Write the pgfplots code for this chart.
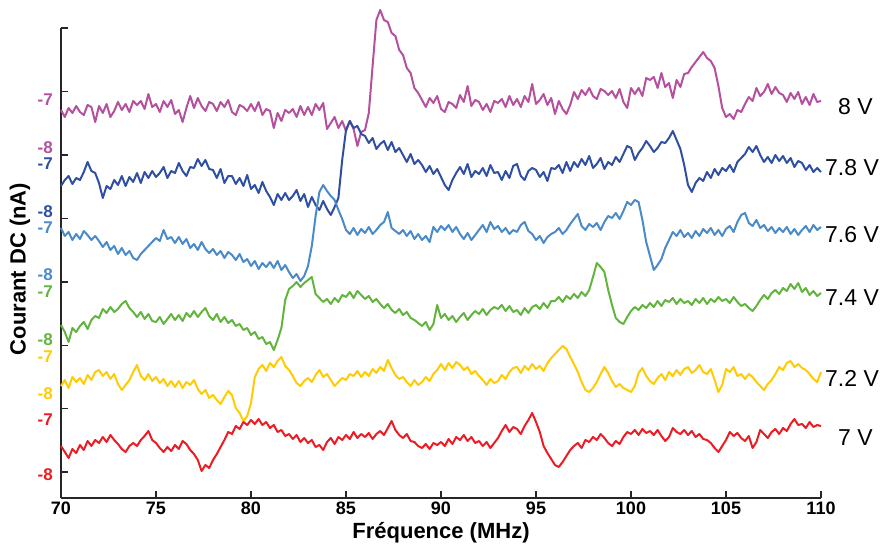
\documentclass[border=0pt]{standalone}
\usepackage{pgfplots}
\pgfplotsset{compat=1.18}
\usepackage{fontspec}
\setmainfont{Liberation Sans}
\definecolor{cM}{HTML}{B5509F}
\definecolor{cB}{HTML}{2F4FA2}
\definecolor{cL}{HTML}{4A8AC9}
\definecolor{cG}{HTML}{63B43F}
\definecolor{cY}{HTML}{FFCB05}
\definecolor{cR}{HTML}{EC1C24}
\begin{document}
\begin{tikzpicture}
\begin{axis}[
  scale only axis, width=760bp, height=470bp,
  xmin=70, xmax=110, ymin=0, ymax=470,
  axis x line*=bottom, axis y line*=left,
  axis line style={line width=1.4bp, black!85, -},
  xtick={70,75,...,110},
  ytick={26,89.4,152.8,216.2,279.6,343,406.4,470},
  yticklabels={},
  tick align=inside, major tick length=7bp,
  tick style={line width=1.4bp, black!85},
  /pgf/number format/assume math mode=true,
  xticklabel style={font=\fontsize{18bp}{18bp}\selectfont\bfseries, anchor=base, yshift=-16bp},
  clip=false,
  every axis plot/.append style={line width=2bp, line join=round},
]
\addplot[cM] coordinates {
(70,388) (70.2,381) (70.4,390) (70.6,385) (70.8,392)
(71,386) (71.2,383) (71.4,393) (71.6,391) (71.8,376)
(72,392) (72.2,385) (72.4,394) (72.6,381) (72.8,387)
(73,396) (73.2,388) (73.4,394) (73.6,386) (73.8,397)
(74,393) (74.2,397) (74.4,389) (74.6,404) (74.8,391)
(75,394) (75.2,386) (75.4,397) (75.6,391) (75.8,398)
(76,384) (76.2,388) (76.4,376) (76.6,390) (76.8,402)
(77,390) (77.2,400) (77.4,392) (77.6,387) (77.8,396)
(78,394) (78.2,387) (78.4,396) (78.6,391) (78.8,398)
(79,386) (79.2,383) (79.4,393) (79.6,391) (79.8,387)
(80,394) (80.2,387) (80.4,396) (80.6,383) (80.8,389)
(81,387) (81.2,370) (81.4,385) (81.6,377) (81.8,388)
(82,385) (82.2,389) (82.4,381) (82.6,392) (82.8,383)
(83,391) (83.2,383) (83.4,394) (83.6,388) (83.8,395)
(84,369) (84.2,375) (84.4,381) (84.6,370) (84.8,377)
(85,367) (85.2,377) (85.4,369) (85.6,352) (85.8,366)
(86,368) (86.2,385) (86.4,432) (86.6,478) (86.8,488)
(87,478) (87.2,476) (87.4,465) (87.6,462) (87.8,448)
(88,443) (88.2,430) (88.4,425) (88.6,410) (88.8,405)
(89,398) (89.2,391) (89.4,400) (89.6,395) (89.8,402)
(90,389) (90.2,386) (90.4,396) (90.6,394) (90.8,390)
(91,403) (91.2,396) (91.4,412) (91.6,392) (91.8,398)
(92,396) (92.2,388) (92.4,394) (92.6,386) (92.8,397)
(93,395) (93.2,399) (93.4,391) (93.6,402) (93.8,393)
(94,399) (94.2,391) (94.4,402) (94.6,396) (94.8,414)
(95,394) (95.2,398) (95.4,404) (95.6,393) (95.8,400)
(96,384) (96.2,397) (96.4,389) (96.6,384) (96.8,393)
(97,406) (97.2,399) (97.4,408) (97.6,403) (97.8,410)
(98,402) (98.2,399) (98.4,409) (98.6,407) (98.8,403)
(99,407) (99.2,400) (99.4,409) (99.6,396) (99.8,390)
(100,410) (100.2,404) (100.4,410) (100.6,402) (100.8,420)
(101,418) (101.2,421) (101.4,410) (101.6,425) (101.8,411)
(102,415) (102.2,400) (102.4,418) (102.6,411) (102.8,424)
(103,425) (103.2,431) (103.4,436) (103.6,441) (103.8,446)
(104,440) (104.2,437) (104.4,430) (104.6,412) (104.8,390)
(105,381) (105.2,384) (105.4,379) (105.6,388) (105.8,386)
(106,394) (106.2,401) (106.4,397) (106.6,410) (106.8,402)
(107,406) (107.2,414) (107.4,404) (107.6,411) (107.8,405)
(108,403) (108.2,396) (108.4,405) (108.6,399) (108.8,406)
(109,394) (109.2,401) (109.4,393) (109.6,404) (109.8,396)
(110,397)};
\addplot[cB] coordinates {
(70,312) (70.2,318) (70.4,322) (70.6,314) (70.8,320)
(71,318) (71.2,326) (71.4,336) (71.6,327) (71.8,325)
(72,315) (72.2,300) (72.4,312) (72.6,309) (72.8,318)
(73,313) (73.2,322) (73.4,312) (73.6,321) (73.8,316)
(74,325) (74.2,315) (74.4,326) (74.6,320) (74.8,327)
(75,321) (75.2,325) (75.4,331) (75.6,320) (75.8,327)
(76,325) (76.2,335) (76.4,327) (76.6,322) (76.8,331)
(77,330) (77.2,339) (77.4,332) (77.6,338) (77.8,329)
(78,328) (78.2,320) (78.4,329) (78.6,315) (78.8,322)
(79,322) (79.2,314) (79.4,320) (79.6,312) (79.8,323)
(80,309) (80.2,313) (80.4,305) (80.6,316) (80.8,307)
(81,301) (81.2,293) (81.4,304) (81.6,298) (81.8,305)
(82,298) (82.2,302) (82.4,308) (82.6,297) (82.8,304)
(83,291) (83.2,301) (83.4,293) (83.6,288) (83.8,297)
(84,289) (84.2,283) (84.4,291) (84.6,300) (84.8,338)
(85,368) (85.2,377) (85.4,370) (85.6,372) (85.8,364)
(86,362) (86.2,355) (86.4,360) (86.6,349) (86.8,354)
(87,357) (87.2,348) (87.4,356) (87.6,346) (87.8,350)
(88,343) (88.2,336) (88.4,344) (88.6,334) (88.8,338)
(89,333) (89.2,326) (89.4,332) (89.6,324) (89.8,329)
(90,321) (90.2,313) (90.4,308) (90.6,318) (90.8,325)
(91,331) (91.2,324) (91.4,334) (91.6,321) (91.8,327)
(92,324) (92.2,330) (92.4,322) (92.6,333) (92.8,325)
(93,326) (93.2,318) (93.4,327) (93.6,320) (93.8,332)
(94,334) (94.2,322) (94.4,318) (94.6,327) (94.8,330)
(95,328) (95.2,321) (95.4,326) (95.6,317) (95.8,330)
(96,329) (96.2,333) (96.4,325) (96.6,336) (96.8,327)
(97,336) (97.2,331) (97.4,339) (97.6,333) (97.8,342)
(98,330) (98.2,334) (98.4,340) (98.6,329) (98.8,336)
(99,333) (99.2,341) (99.4,336) (99.6,344) (99.8,352)
(100,350) (100.2,338) (100.4,345) (100.6,350) (100.8,357)
(101,352) (101.2,346) (101.4,350) (101.6,356) (101.8,355)
(102,360) (102.2,367) (102.4,358) (102.6,349) (102.8,333)
(103,313) (103.2,306) (103.4,315) (103.6,320) (103.8,317)
(104,326) (104.2,320) (104.4,329) (104.6,323) (104.8,330)
(105,327) (105.2,333) (105.4,326) (105.6,336) (105.8,340)
(106,344) (106.2,351) (106.4,346) (106.6,352) (106.8,343)
(107,336) (107.2,341) (107.4,335) (107.6,343) (107.8,337)
(108,342) (108.2,335) (108.4,340) (108.6,331) (108.8,337)
(109,335) (109.2,328) (109.4,333) (109.6,326) (109.8,330)
(110,326)};
\addplot[cL] coordinates {
(70,270) (70.2,262) (70.4,266) (70.6,258) (70.8,264)
(71,259) (71.2,267) (71.4,263) (71.6,258) (71.8,262)
(72,257) (72.2,251) (72.4,256) (72.6,248) (72.8,252)
(73,244) (73.2,250) (73.4,243) (73.6,247) (73.8,240)
(74,238) (74.2,244) (74.4,248) (74.6,252) (74.8,256)
(75,260) (75.2,257) (75.4,268) (75.6,259) (75.8,261)
(76,255) (76.2,261) (76.4,254) (76.6,259) (76.8,250)
(77,254) (77.2,248) (77.4,256) (77.6,249) (77.8,245)
(78,249) (78.2,243) (78.4,247) (78.6,240) (78.8,246)
(79,243) (79.2,238) (79.4,244) (79.6,236) (79.8,239)
(80,232) (80.2,237) (80.4,229) (80.6,235) (80.8,231)
(81,236) (81.2,230) (81.4,237) (81.6,228) (81.8,233)
(82,226) (82.2,220) (82.4,224) (82.6,217) (82.8,222)
(83,232) (83.2,252) (83.4,282) (83.6,306) (83.8,313)
(84,307) (84.2,302) (84.4,298) (84.6,288) (84.8,279)
(85,268) (85.2,264) (85.4,270) (85.6,263) (85.8,269)
(86,265) (86.2,271) (86.4,264) (86.6,268) (86.8,273)
(87,276) (87.2,286) (87.4,270) (87.6,267) (87.8,264)
(88,268) (88.2,262) (88.4,267) (88.6,259) (88.8,264)
(89,258) (89.2,262) (89.4,256) (89.6,271) (89.8,266)
(90,272) (90.2,268) (90.4,273) (90.6,266) (90.8,271)
(91,264) (91.2,259) (91.4,265) (91.6,258) (91.8,263)
(92,268) (92.2,273) (92.4,266) (92.6,276) (92.8,269)
(93,272) (93.2,266) (93.4,270) (93.6,264) (93.8,268)
(94,266) (94.2,273) (94.4,276) (94.6,267) (94.8,264)
(95,258) (95.2,262) (95.4,255) (95.6,261) (95.8,264)
(96,266) (96.2,270) (96.4,264) (96.6,268) (96.8,274)
(97,279) (97.2,284) (97.4,272) (97.6,268) (97.8,274)
(98,271) (98.2,275) (98.4,268) (98.6,276) (98.8,282)
(99,280) (99.2,285) (99.4,279) (99.6,287) (99.8,296)
(100,293) (100.2,298) (100.4,296) (100.6,278) (100.8,256)
(101,242) (101.2,228) (101.4,233) (101.6,239) (101.8,250)
(102,258) (102.2,266) (102.4,262) (102.6,268) (102.8,261)
(103,265) (103.2,260) (103.4,267) (103.6,262) (103.8,269)
(104,265) (104.2,270) (104.4,263) (104.6,268) (104.8,262)
(105,269) (105.2,272) (105.4,266) (105.6,276) (105.8,283)
(106,285) (106.2,275) (106.4,272) (106.6,278) (106.8,270)
(107,273) (107.2,267) (107.4,271) (107.6,265) (107.8,270)
(108,266) (108.2,271) (108.4,264) (108.6,269) (108.8,263)
(109,268) (109.2,272) (109.4,266) (109.6,273) (109.8,268)
(110,271)};
\addplot[cG] coordinates {
(70,173) (70.2,166) (70.4,156) (70.6,170) (70.8,166)
(71,172) (71.2,176) (71.4,169) (71.6,178) (71.8,182)
(72,180) (72.2,189) (72.4,185) (72.6,191) (72.8,186)
(73,189) (73.2,194) (73.4,197) (73.6,190) (73.8,186)
(74,181) (74.2,186) (74.4,179) (74.6,184) (74.8,177)
(75,176) (75.2,181) (75.4,174) (75.6,179) (75.8,184)
(76,178) (76.2,183) (76.4,177) (76.6,185) (76.8,181)
(77,187) (77.2,181) (77.4,186) (77.6,190) (77.8,182)
(78,178) (78.2,184) (78.4,176) (78.6,181) (78.8,175)
(79,178) (79.2,172) (79.4,174) (79.6,168) (79.8,170)
(80,163) (80.2,166) (80.4,159) (80.6,161) (80.8,154)
(81,156) (81.2,148) (81.4,158) (81.6,170) (81.8,198)
(82,209) (82.2,212) (82.4,216) (82.6,211) (82.8,215)
(83,218) (83.2,221) (83.4,204) (83.6,200) (83.8,196)
(84,199) (84.2,194) (84.4,200) (84.6,196) (84.8,203)
(85,201) (85.2,206) (85.4,200) (85.6,207) (85.8,203)
(86,199) (86.2,202) (86.4,196) (86.6,199) (86.8,194)
(87,190) (87.2,194) (87.4,188) (87.6,185) (87.8,189)
(88,183) (88.2,186) (88.4,180) (88.6,178) (88.8,175)
(89,172) (89.2,176) (89.4,168) (89.6,174) (89.8,193)
(90,180) (90.2,184) (90.4,178) (90.6,182) (90.8,176)
(91,181) (91.2,185) (91.4,178) (91.6,183) (91.8,187)
(92,184) (92.2,189) (92.4,183) (92.6,188) (92.8,191)
(93,189) (93.2,193) (93.4,187) (93.6,192) (93.8,186)
(94,188) (94.2,183) (94.4,190) (94.6,185) (94.8,191)
(95,193) (95.2,189) (95.4,195) (95.6,190) (95.8,197)
(96,197) (96.2,201) (96.4,196) (96.6,202) (96.8,199)
(97,204) (97.2,200) (97.4,206) (97.6,202) (97.8,208)
(98,221) (98.2,235) (98.4,231) (98.6,226) (98.8,208)
(99,193) (99.2,180) (99.4,176) (99.6,174) (99.8,181)
(100,187) (100.2,191) (100.4,188) (100.6,193) (100.8,190)
(101,195) (101.2,191) (101.4,197) (101.6,192) (101.8,198)
(102,196) (102.2,200) (102.4,194) (102.6,199) (102.8,195)
(103,197) (103.2,193) (103.4,199) (103.6,195) (103.8,200)
(104,194) (104.2,199) (104.4,196) (104.6,201) (104.8,197)
(105,199) (105.2,195) (105.4,201) (105.6,196) (105.8,192)
(106,194) (106.2,190) (106.4,187) (106.6,192) (106.8,198)
(107,203) (107.2,199) (107.4,205) (107.6,208) (107.8,204)
(108,210) (108.2,207) (108.4,214) (108.6,209) (108.8,215)
(109,206) (109.2,210) (109.4,203) (109.6,207) (109.8,202)
(110,205)};
\addplot[cY] coordinates {
(70,112) (70.2,118) (70.4,110) (70.6,121) (70.8,116)
(71,120) (71.2,114) (71.4,123) (71.6,118) (71.8,126)
(72,128) (72.2,122) (72.4,126) (72.6,119) (72.8,124)
(73,114) (73.2,108) (73.4,113) (73.6,118) (73.8,126)
(74,133) (74.2,122) (74.4,118) (74.6,124) (74.8,117)
(75,121) (75.2,115) (75.4,119) (75.6,112) (75.8,117)
(76,111) (76.2,117) (76.4,110) (76.6,116) (76.8,113)
(77,118) (77.2,109) (77.4,104) (77.6,108) (77.8,100)
(78,103) (78.2,98) (78.4,94) (78.6,101) (78.8,107)
(79,103) (79.2,90) (79.4,85) (79.6,77) (79.8,82)
(80,95) (80.2,121) (80.4,129) (80.6,133) (80.8,127)
(81,135) (81.2,131) (81.4,137) (81.6,141) (81.8,132)
(82,128) (82.2,122) (82.4,115) (82.6,112) (82.8,117)
(83,120) (83.2,116) (83.4,123) (83.6,128) (83.8,121)
(84,124) (84.2,118) (84.4,112) (84.6,116) (84.8,120)
(85,118) (85.2,124) (85.4,122) (85.6,127) (85.8,121)
(86,126) (86.2,122) (86.4,129) (86.6,125) (86.8,131)
(87,127) (87.2,138) (87.4,130) (87.6,123) (87.8,119)
(88,121) (88.2,116) (88.4,112) (88.6,118) (88.8,113)
(89,116) (89.2,121) (89.4,117) (89.6,124) (89.8,128)
(90,134) (90.2,128) (90.4,135) (90.6,130) (90.8,136)
(91,133) (91.2,128) (91.4,131) (91.6,124) (91.8,127)
(92,122) (92.2,118) (92.4,113) (92.6,119) (92.8,115)
(93,117) (93.2,123) (93.4,119) (93.6,126) (93.8,130)
(94,131) (94.2,125) (94.4,132) (94.6,128) (94.8,134)
(95,129) (95.2,132) (95.4,127) (95.6,135) (95.8,140)
(96,144) (96.2,148) (96.4,152) (96.6,149) (96.8,141)
(97,134) (97.2,126) (97.4,116) (97.6,108) (97.8,106)
(98,110) (98.2,116) (98.4,124) (98.6,131) (98.8,125)
(99,117) (99.2,111) (99.4,114) (99.6,110) (99.8,108)
(100,106) (100.2,112) (100.4,125) (100.6,130) (100.8,122)
(101,117) (101.2,114) (101.4,120) (101.6,124) (101.8,118)
(102,126) (102.2,122) (102.4,128) (102.6,123) (102.8,129)
(103,131) (103.2,125) (103.4,128) (103.6,133) (103.8,126)
(104,124) (104.2,129) (104.4,118) (104.6,106) (104.8,113)
(105,129) (105.2,126) (105.4,131) (105.6,122) (105.8,124)
(106,119) (106.2,124) (106.4,121) (106.6,116) (106.8,112)
(107,108) (107.2,114) (107.4,118) (107.6,124) (107.8,131)
(108,128) (108.2,135) (108.4,137) (108.6,131) (108.8,134)
(109,130) (109.2,128) (109.4,124) (109.6,119) (109.8,116)
(110,126)};
\addplot[cR] coordinates {
(70,52) (70.2,46) (70.4,40) (70.6,49) (70.8,45)
(71,53) (71.2,48) (71.4,57) (71.6,52) (71.8,58)
(72,55) (72.2,61) (72.4,56) (72.6,63) (72.8,58)
(73,54) (73.2,49) (73.4,46) (73.6,52) (73.8,55)
(74,52) (74.2,58) (74.4,62) (74.6,67) (74.8,58)
(75,55) (75.2,50) (75.4,46) (75.6,51) (75.8,47)
(76,53) (76.2,49) (76.4,57) (76.6,54) (76.8,48)
(77,44) (77.2,38) (77.4,27) (77.6,33) (77.8,30)
(78,38) (78.2,44) (78.4,51) (78.6,58) (78.8,66)
(79,64) (79.2,72) (79.4,69) (79.6,76) (79.8,73)
(80,78) (80.2,74) (80.4,79) (80.6,73) (80.8,76)
(81,70) (81.2,73) (81.4,66) (81.6,68) (81.8,62)
(82,64) (82.2,59) (82.4,63) (82.6,56) (82.8,60)
(83,55) (83.2,58) (83.4,51) (83.6,53) (83.8,48)
(84,56) (84.2,60) (84.4,54) (84.6,61) (84.8,58)
(85,63) (85.2,59) (85.4,66) (85.6,60) (85.8,64)
(86,61) (86.2,65) (86.4,59) (86.6,64) (86.8,67)
(87,63) (87.2,70) (87.4,77) (87.6,68) (87.8,63)
(88,60) (88.2,64) (88.4,57) (88.6,56) (88.8,52)
(89,50) (89.2,54) (89.4,49) (89.6,55) (89.8,53)
(90,56) (90.2,52) (90.4,59) (90.6,54) (90.8,61)
(91,58) (91.2,63) (91.4,57) (91.6,61) (91.8,55)
(92,57) (92.2,52) (92.4,56) (92.6,50) (92.8,55)
(93,60) (93.2,67) (93.4,73) (93.6,66) (93.8,71)
(94,69) (94.2,64) (94.4,72) (94.6,78) (94.8,85)
(95,76) (95.2,66) (95.4,52) (95.6,45) (95.8,39)
(96,33) (96.2,31) (96.4,36) (96.6,42) (96.8,48)
(97,52) (97.2,55) (97.4,50) (97.6,58) (97.8,56)
(98,61) (98.2,58) (98.4,64) (98.6,60) (98.8,55)
(99,52) (99.2,57) (99.4,54) (99.6,61) (99.8,66)
(100,64) (100.2,68) (100.4,63) (100.6,69) (100.8,65)
(101,67) (101.2,63) (101.4,68) (101.6,62) (101.8,57)
(102,61) (102.2,70) (102.4,66) (102.6,64) (102.8,68)
(103,63) (103.2,67) (103.4,61) (103.6,64) (103.8,59)
(104,58) (104.2,55) (104.4,50) (104.6,46) (104.8,52)
(105,58) (105.2,66) (105.4,62) (105.6,65) (105.8,60)
(106,57) (106.2,62) (106.4,50) (106.6,56) (106.8,68)
(107,64) (107.2,60) (107.4,66) (107.6,69) (107.8,64)
(108,70) (108.2,67) (108.4,74) (108.6,79) (108.8,73)
(109,74) (109.2,70) (109.4,76) (109.6,71) (109.8,73)
(110,72)};
% left scale labels
\begin{scope}[every node/.style={anchor=east, inner sep=0pt, font=\fontsize{17bp}{17bp}\selectfont\bfseries}]
\node[text=cM] at ([xshift=-8bp]axis cs:70,398) {-7};
\node[text=cM] at ([xshift=-8bp]axis cs:70,350) {-8};
\node[text=cB] at ([xshift=-8bp]axis cs:70,334) {-7};
\node[text=cB] at ([xshift=-8bp]axis cs:70,286) {-8};
\node[text=cL] at ([xshift=-8bp]axis cs:70,270) {-7};
\node[text=cL] at ([xshift=-8bp]axis cs:70,223) {-8};
\node[text=cG] at ([xshift=-8bp]axis cs:70,206) {-7};
\node[text=cG] at ([xshift=-8bp]axis cs:70,158) {-8};
\node[text=cY] at ([xshift=-8bp]axis cs:70,141) {-7};
\node[text=cY] at ([xshift=-8bp]axis cs:70,104) {-8};
\node[text=cR] at ([xshift=-8bp]axis cs:70,78) {-7};
\node[text=cR] at ([xshift=-8bp]axis cs:70,23) {-8};
\end{scope}
% right voltage labels
\begin{scope}[every node/.style={anchor=west, inner sep=0pt, font=\fontsize{23bp}{23bp}\selectfont}]
\node at ([xshift=17bp]axis cs:110,391) {8 V};
\node at ([xshift=4bp]axis cs:110,330) {7.8 V};
\node at ([xshift=4bp]axis cs:110,263) {7.6 V};
\node at ([xshift=4bp]axis cs:110,200) {7.4 V};
\node at ([xshift=4bp]axis cs:110,120) {7.2 V};
\node at ([xshift=17bp]axis cs:110,60) {7 V};
\end{scope}
\node[anchor=base, inner sep=0pt, font=\fontsize{22bp}{22bp}\selectfont\bfseries] at ([yshift=-40bp]axis cs:90,0) {Fréquence (MHz)};
\node[rotate=90, anchor=center, inner sep=0pt, font=\fontsize{22bp}{22bp}\selectfont\bfseries] at ([xshift=-41bp]axis cs:70,229) {Courant DC (nA)};
\end{axis}
\pgfresetboundingbox
\path (-61bp,-47bp) rectangle (824bp,498bp);
\end{tikzpicture}
\end{document}
